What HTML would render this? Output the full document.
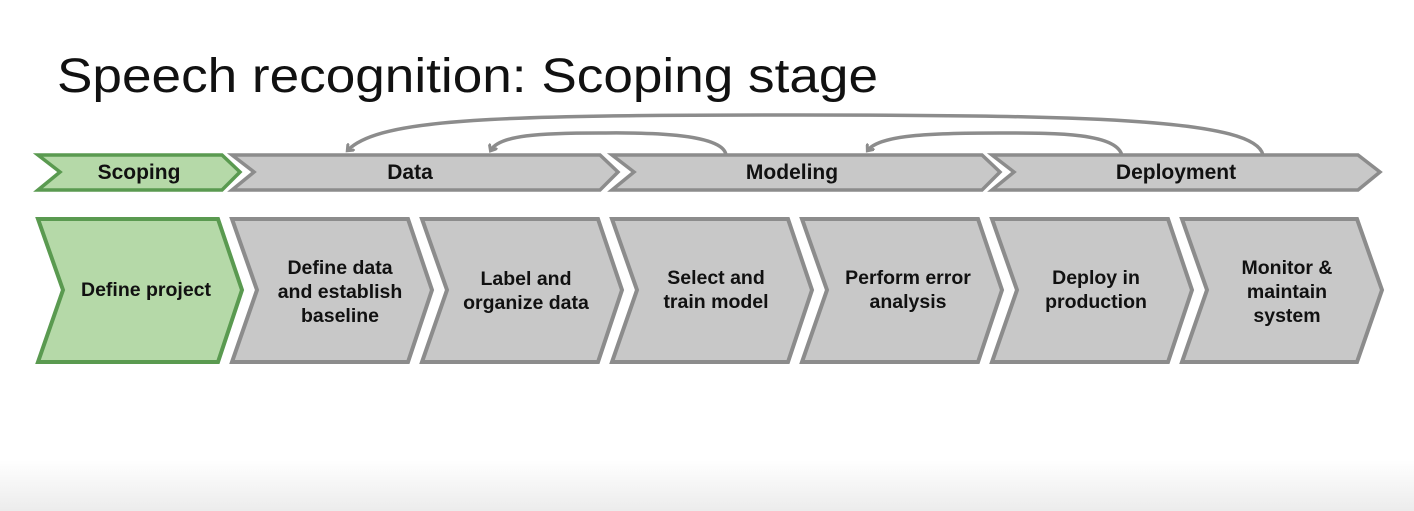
<!DOCTYPE html>
<html><head><style>
html,body{margin:0;padding:0;width:1414px;height:511px;overflow:hidden;background:#fff}
</style></head><body>
<svg width="1414" height="511" xmlns="http://www.w3.org/2000/svg" font-family="Liberation Sans, Arial, sans-serif">
<defs>
<linearGradient id="bg" x1="0" y1="0" x2="0" y2="1">
<stop offset="0" stop-color="#ffffff"/><stop offset="1" stop-color="#ececec"/>
</linearGradient>
<marker id="ah" markerWidth="10" markerHeight="10" refX="5" refY="5" orient="auto" markerUnits="userSpaceOnUse">
<path d="M0,0 L6,5 L0,10" fill="none" stroke="#8c8c8c" stroke-width="3"/>
</marker>
</defs>
<rect x="0" y="460" width="1414" height="51" fill="url(#bg)"/>
<text x="57" y="92" font-size="48" fill="#111" textLength="821" lengthAdjust="spacingAndGlyphs" font-family="Liberation Sans, sans-serif">Speech recognition: Scoping stage</text>

<g fill="none" stroke="#8c8c8c" stroke-width="3.5">
<path d="M1263,155 C1255,120 1100,115 800,115 C500,115 380,118 348,150" marker-end="url(#ah)"/>
<path d="M726,156 C726,130 620,133 600,133 C540,133 500,135 491,150" marker-end="url(#ah)"/>
<path d="M1122,156 C1118,132 1050,133 1000,133 C930,133 880,135 868,150" marker-end="url(#ah)"/>
</g>

<g stroke-width="3.5" stroke-linejoin="miter">
<polygon points="38,155 222,155 240,172 222,190 38,190 60,172" fill="#b5d9a8" stroke="#5a9a50"/>
<polygon points="232,155 600,155 618,172 600,190 232,190 254,172" fill="#c8c8c8" stroke="#8c8c8c"/>
<polygon points="612,155 982,155 1000,172 982,190 612,190 634,172" fill="#c8c8c8" stroke="#8c8c8c"/>
<polygon points="992,155 1358,155 1380,172 1358,190 992,190 1014,172" fill="#c8c8c8" stroke="#8c8c8c"/>
</g>
<g font-size="21" font-weight="bold" fill="#111" text-anchor="middle">
<text x="139" y="179">Scoping</text>
<text x="410" y="179">Data</text>
<text x="792" y="179">Modeling</text>
<text x="1176" y="179">Deployment</text>
</g>

<g stroke-width="4" stroke-linejoin="miter">
<polygon points="38,219 218,219 242,290 218,362 38,362 63,290" fill="#b5d9a8" stroke="#5a9a50"/>
<polygon points="232,219 408,219 432,290 408,362 232,362 257,290" fill="#c8c8c8" stroke="#8c8c8c"/>
<polygon points="422,219 598,219 622,290 598,362 422,362 447,290" fill="#c8c8c8" stroke="#8c8c8c"/>
<polygon points="612,219 788,219 812,290 788,362 612,362 637,290" fill="#c8c8c8" stroke="#8c8c8c"/>
<polygon points="802,219 978,219 1002,290 978,362 802,362 827,290" fill="#c8c8c8" stroke="#8c8c8c"/>
<polygon points="992,219 1168,219 1192,290 1168,362 992,362 1017,290" fill="#c8c8c8" stroke="#8c8c8c"/>
<polygon points="1182,219 1357,219 1382,290 1357,362 1182,362 1207,290" fill="#c8c8c8" stroke="#8c8c8c"/>
</g>
<g font-size="19.5" font-weight="bold" fill="#111" text-anchor="middle">
<text x="146" y="296">Define project</text>
<text x="340" y="274">Define data</text>
<text x="340" y="298">and establish</text>
<text x="340" y="322">baseline</text>
<text x="526" y="285">Label and</text>
<text x="526" y="309">organize data</text>
<text x="716" y="284">Select and</text>
<text x="716" y="308">train model</text>
<text x="908" y="284">Perform error</text>
<text x="908" y="308">analysis</text>
<text x="1096" y="284">Deploy in</text>
<text x="1096" y="308">production</text>
<text x="1287" y="274">Monitor &amp;</text>
<text x="1287" y="298">maintain</text>
<text x="1287" y="322">system</text>
</g>
</svg>
</body></html>
